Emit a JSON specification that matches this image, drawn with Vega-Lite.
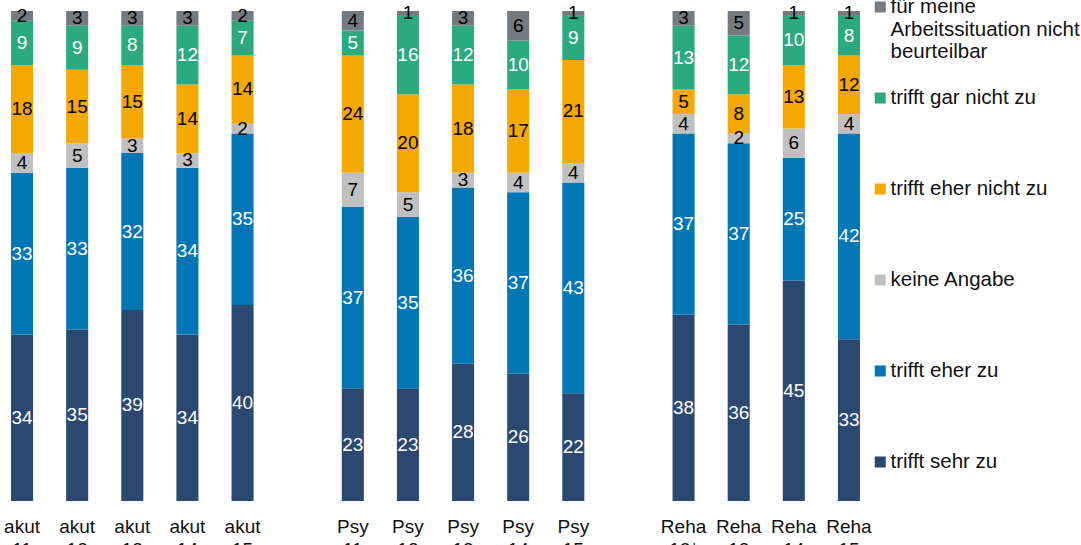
{
  "$schema": "https://vega.github.io/schema/vega-lite/v6.json",
  "width": 871,
  "height": 490,
  "autosize": {"type": "none"},
  "padding": {"left": 0, "top": 11, "right": 210, "bottom": 44},
  "background": "white",
  "config": {"view": {"stroke": null}, "font": "Liberation Sans"},
  "data": {"values": [
    {"group": "akut 11", "answer": "trifft sehr zu", "percent": 34},
    {"group": "akut 11", "answer": "trifft eher zu", "percent": 33},
    {"group": "akut 11", "answer": "keine Angabe", "percent": 4},
    {"group": "akut 11", "answer": "trifft eher nicht zu", "percent": 18},
    {"group": "akut 11", "answer": "trifft gar nicht zu", "percent": 9},
    {"group": "akut 11", "answer": "für meine Arbeitssituation nicht beurteilbar", "percent": 2},
    {"group": "akut 12", "answer": "trifft sehr zu", "percent": 35},
    {"group": "akut 12", "answer": "trifft eher zu", "percent": 33},
    {"group": "akut 12", "answer": "keine Angabe", "percent": 5},
    {"group": "akut 12", "answer": "trifft eher nicht zu", "percent": 15},
    {"group": "akut 12", "answer": "trifft gar nicht zu", "percent": 9},
    {"group": "akut 12", "answer": "für meine Arbeitssituation nicht beurteilbar", "percent": 3},
    {"group": "akut 13", "answer": "trifft sehr zu", "percent": 39},
    {"group": "akut 13", "answer": "trifft eher zu", "percent": 32},
    {"group": "akut 13", "answer": "keine Angabe", "percent": 3},
    {"group": "akut 13", "answer": "trifft eher nicht zu", "percent": 15},
    {"group": "akut 13", "answer": "trifft gar nicht zu", "percent": 8},
    {"group": "akut 13", "answer": "für meine Arbeitssituation nicht beurteilbar", "percent": 3},
    {"group": "akut 14", "answer": "trifft sehr zu", "percent": 34},
    {"group": "akut 14", "answer": "trifft eher zu", "percent": 34},
    {"group": "akut 14", "answer": "keine Angabe", "percent": 3},
    {"group": "akut 14", "answer": "trifft eher nicht zu", "percent": 14},
    {"group": "akut 14", "answer": "trifft gar nicht zu", "percent": 12},
    {"group": "akut 14", "answer": "für meine Arbeitssituation nicht beurteilbar", "percent": 3},
    {"group": "akut 15", "answer": "trifft sehr zu", "percent": 40},
    {"group": "akut 15", "answer": "trifft eher zu", "percent": 35},
    {"group": "akut 15", "answer": "keine Angabe", "percent": 2},
    {"group": "akut 15", "answer": "trifft eher nicht zu", "percent": 14},
    {"group": "akut 15", "answer": "trifft gar nicht zu", "percent": 7},
    {"group": "akut 15", "answer": "für meine Arbeitssituation nicht beurteilbar", "percent": 2},
    {"group": "Psy 11", "answer": "trifft sehr zu", "percent": 23},
    {"group": "Psy 11", "answer": "trifft eher zu", "percent": 37},
    {"group": "Psy 11", "answer": "keine Angabe", "percent": 7},
    {"group": "Psy 11", "answer": "trifft eher nicht zu", "percent": 24},
    {"group": "Psy 11", "answer": "trifft gar nicht zu", "percent": 5},
    {"group": "Psy 11", "answer": "für meine Arbeitssituation nicht beurteilbar", "percent": 4},
    {"group": "Psy 12", "answer": "trifft sehr zu", "percent": 23},
    {"group": "Psy 12", "answer": "trifft eher zu", "percent": 35},
    {"group": "Psy 12", "answer": "keine Angabe", "percent": 5},
    {"group": "Psy 12", "answer": "trifft eher nicht zu", "percent": 20},
    {"group": "Psy 12", "answer": "trifft gar nicht zu", "percent": 16},
    {"group": "Psy 12", "answer": "für meine Arbeitssituation nicht beurteilbar", "percent": 1},
    {"group": "Psy 13", "answer": "trifft sehr zu", "percent": 28},
    {"group": "Psy 13", "answer": "trifft eher zu", "percent": 36},
    {"group": "Psy 13", "answer": "keine Angabe", "percent": 3},
    {"group": "Psy 13", "answer": "trifft eher nicht zu", "percent": 18},
    {"group": "Psy 13", "answer": "trifft gar nicht zu", "percent": 12},
    {"group": "Psy 13", "answer": "für meine Arbeitssituation nicht beurteilbar", "percent": 3},
    {"group": "Psy 14", "answer": "trifft sehr zu", "percent": 26},
    {"group": "Psy 14", "answer": "trifft eher zu", "percent": 37},
    {"group": "Psy 14", "answer": "keine Angabe", "percent": 4},
    {"group": "Psy 14", "answer": "trifft eher nicht zu", "percent": 17},
    {"group": "Psy 14", "answer": "trifft gar nicht zu", "percent": 10},
    {"group": "Psy 14", "answer": "für meine Arbeitssituation nicht beurteilbar", "percent": 6},
    {"group": "Psy 15", "answer": "trifft sehr zu", "percent": 22},
    {"group": "Psy 15", "answer": "trifft eher zu", "percent": 43},
    {"group": "Psy 15", "answer": "keine Angabe", "percent": 4},
    {"group": "Psy 15", "answer": "trifft eher nicht zu", "percent": 21},
    {"group": "Psy 15", "answer": "trifft gar nicht zu", "percent": 9},
    {"group": "Psy 15", "answer": "für meine Arbeitssituation nicht beurteilbar", "percent": 1},
    {"group": "Reha 12*", "answer": "trifft sehr zu", "percent": 38},
    {"group": "Reha 12*", "answer": "trifft eher zu", "percent": 37},
    {"group": "Reha 12*", "answer": "keine Angabe", "percent": 4},
    {"group": "Reha 12*", "answer": "trifft eher nicht zu", "percent": 5},
    {"group": "Reha 12*", "answer": "trifft gar nicht zu", "percent": 13},
    {"group": "Reha 12*", "answer": "für meine Arbeitssituation nicht beurteilbar", "percent": 3},
    {"group": "Reha 13", "answer": "trifft sehr zu", "percent": 36},
    {"group": "Reha 13", "answer": "trifft eher zu", "percent": 37},
    {"group": "Reha 13", "answer": "keine Angabe", "percent": 2},
    {"group": "Reha 13", "answer": "trifft eher nicht zu", "percent": 8},
    {"group": "Reha 13", "answer": "trifft gar nicht zu", "percent": 12},
    {"group": "Reha 13", "answer": "für meine Arbeitssituation nicht beurteilbar", "percent": 5},
    {"group": "Reha 14", "answer": "trifft sehr zu", "percent": 45},
    {"group": "Reha 14", "answer": "trifft eher zu", "percent": 25},
    {"group": "Reha 14", "answer": "keine Angabe", "percent": 6},
    {"group": "Reha 14", "answer": "trifft eher nicht zu", "percent": 13},
    {"group": "Reha 14", "answer": "trifft gar nicht zu", "percent": 10},
    {"group": "Reha 14", "answer": "für meine Arbeitssituation nicht beurteilbar", "percent": 1},
    {"group": "Reha 15", "answer": "trifft sehr zu", "percent": 33},
    {"group": "Reha 15", "answer": "trifft eher zu", "percent": 42},
    {"group": "Reha 15", "answer": "keine Angabe", "percent": 4},
    {"group": "Reha 15", "answer": "trifft eher nicht zu", "percent": 12},
    {"group": "Reha 15", "answer": "trifft gar nicht zu", "percent": 8},
    {"group": "Reha 15", "answer": "für meine Arbeitssituation nicht beurteilbar", "percent": 1}
  ]},
  "transform": [
    {"calculate": "indexof(['trifft sehr zu','trifft eher zu','keine Angabe','trifft eher nicht zu','trifft gar nicht zu','für meine Arbeitssituation nicht beurteilbar'], datum.answer)", "as": "stackOrder"},
    {"stack": "percent", "groupby": ["group"], "sort": [{"field": "stackOrder", "order": "ascending"}], "as": ["p0", "p1"]},
    {"calculate": "(datum.p0 + datum.p1) / 2", "as": "pmid"}
  ],
  "encoding": {
    "x": {
      "field": "group",
      "type": "nominal",
      "title": null,
      "scale": {
        "domain": ["akut 11", "akut 12", "akut 13", "akut 14", "akut 15", " ", "Psy 11", "Psy 12", "Psy 13", "Psy 14", "Psy 15", "  ", "Reha 12*", "Reha 13", "Reha 14", "Reha 15"],
        "paddingInner": 0.6,
        "paddingOuter": 0.2
      },
      "axis": {
        "labelExpr": "split(datum.label, ' ')",
        "labelFontSize": 19,
        "labelColor": "#111111",
        "labelAngle": 0,
        "labelPadding": 16,
        "labelLineHeight": 23,
        "labelOverlap": false,
        "domain": false,
        "ticks": false,
        "grid": false
      }
    }
  },
  "layer": [
    {
      "mark": {"type": "bar"},
      "encoding": {
        "y": {"field": "p1", "type": "quantitative", "scale": {"domain": [0, 100]}, "axis": null},
        "y2": {"field": "p0"},
        "color": {
          "field": "answer",
          "type": "nominal",
          "scale": {
            "domain": ["für meine Arbeitssituation nicht beurteilbar", "trifft gar nicht zu", "trifft eher nicht zu", "keine Angabe", "trifft eher zu", "trifft sehr zu"],
            "range": ["#737B81", "#2BAA80", "#F5A800", "#C0C0C0", "#0076B4", "#2B4870"]
          },
          "legend": {
            "orient": "none",
            "legendX": 870,
            "legendY": -14,
            "title": null,
            "symbolType": "square",
            "symbolSize": 121,
            "symbolStrokeWidth": 0,
            "labelFontSize": 20.5,
            "labelColor": "#111111",
            "labelOffset": 0,
            "labelLimit": 400,
            "rowPadding": 25,
            "clipHeight": 20,
            "labelLineHeight": 23,
            "labelExpr": "datum.label == 'für meine Arbeitssituation nicht beurteilbar' ? ['für meine', 'Arbeitssituation nicht', 'beurteilbar'] : [datum.label, '', '']"
          }
        }
      }
    },
    {
      "mark": {"type": "text", "fontSize": 19, "baseline": "middle", "align": "center"},
      "encoding": {
        "y": {"field": "pmid", "type": "quantitative", "stack": null},
        "text": {"field": "percent", "type": "quantitative"},
        "color": {
          "condition": {"test": "datum.answer == 'keine Angabe' || datum.answer == 'trifft eher nicht zu' || datum.answer == 'für meine Arbeitssituation nicht beurteilbar'", "value": "#000000"},
          "value": "#ffffff"
        }
      }
    }
  ]
}
